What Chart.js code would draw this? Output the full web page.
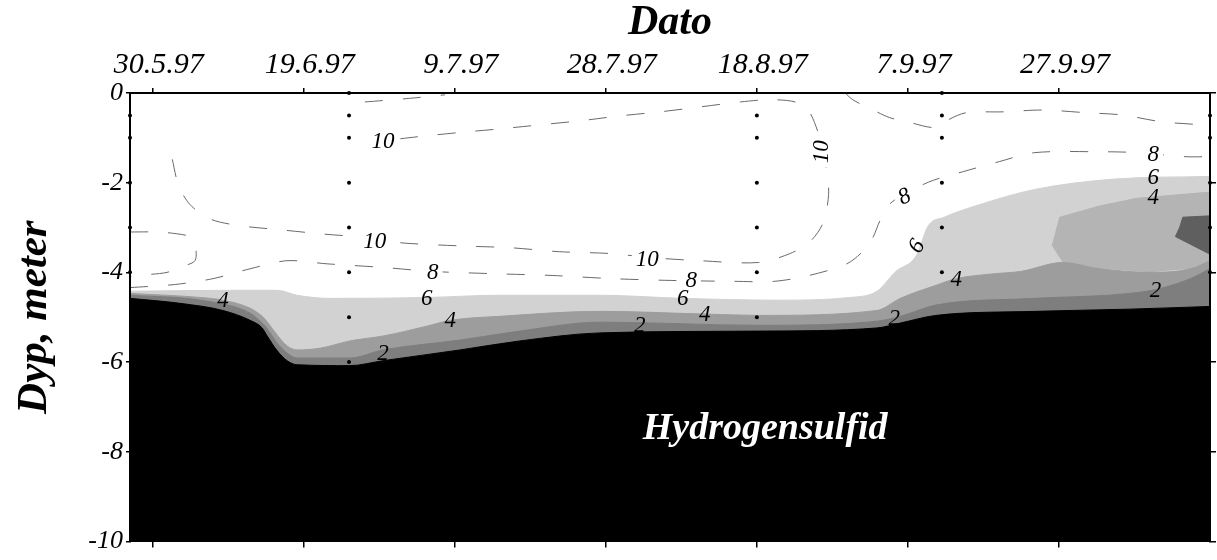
<!DOCTYPE html>
<html>
<head>
<meta charset="utf-8">
<script src="https://cdn.jsdelivr.net/npm/chart.js@4/dist/chart.umd.min.js"></script>
<style>
html,body{margin:0;padding:0;background:#fff;}
#wrap{width:1217px;height:560px;}
</style>
</head>
<body>
<div id="wrap"><canvas id="c" width="1217" height="560"></canvas></div>
<script>
// ---- axis ticks ----
const xTickValues = [150, 170, 190, 210, 230, 250, 270];
const xTickLabels = ['30.5.97', '19.6.97', '9.7.97', '28.7.97', '18.8.97', '7.9.97', '27.9.97'];
const yTickValues = [-10, -8, -6, -4, -2, 0];
const yTickLabels = ['-10', '-8', '-6', '-4', '-2', '0'];

// ---- filled contour boundaries [day of year, depth m] ----
const iso6 = [[147.0,-4.42],[160.2,-4.40],[166.5,-4.40],[169.1,-4.51],[173.5,-4.58],[186.3,-4.56],[196.0,-4.51],[209.2,-4.51],[220.2,-4.58],[232.8,-4.62],[242.3,-4.56],[245.9,-4.42],[248.4,-3.98],[251.1,-3.63],[252.7,-2.96],[254.8,-2.77],[258.9,-2.52],[266.8,-2.15],[277.3,-1.92],[290.0,-1.86]];
const iso4 = [[147.0,-4.47],[156.3,-4.56],[159.3,-4.62],[162.9,-4.80],[164.5,-4.98],[165.1,-5.09],[166.5,-5.40],[167.8,-5.64],[169.1,-5.73],[172.2,-5.69],[176.1,-5.53],[180.5,-5.42],[186.3,-5.20],[189.4,-5.07],[196.0,-4.98],[209.2,-4.87],[223.1,-4.93],[230.2,-4.96],[245.9,-4.85],[249.0,-4.58],[253.7,-4.29],[256.4,-4.14],[261.5,-4.03],[264.9,-3.98],[270.5,-3.78],[275.4,-3.92],[282.1,-4.00],[287.4,-3.92],[290.0,-3.74]];
const iso2 = [[147.0,-4.51],[156.3,-4.62],[162.9,-4.91],[164.5,-5.13],[165.1,-5.24],[166.5,-5.58],[167.8,-5.80],[169.1,-5.91],[176.1,-5.91],[180.5,-5.73],[190.7,-5.51],[198.6,-5.31],[209.2,-5.11],[230.2,-5.18],[245.9,-5.09],[249.0,-4.98],[253.7,-4.73],[266.8,-4.58],[279.4,-4.47],[283.4,-4.36],[287.4,-4.14],[290.0,-3.92]];
const iso0 = [[147.0,-4.58],[153.6,-4.69],[159.3,-4.85],[162.9,-5.07],[164.5,-5.24],[165.1,-5.40],[166.5,-5.75],[167.8,-5.97],[169.1,-6.06],[176.1,-6.08],[180.5,-5.97],[190.7,-5.73],[198.6,-5.53],[209.2,-5.35],[230.2,-5.31],[245.9,-5.24],[249.0,-5.13],[253.7,-4.96],[266.8,-4.87],[279.4,-4.82],[290.0,-4.76]];
const pocketTop = [[269.1,-3.41],[270.1,-2.77],[275.4,-2.52],[280.3,-2.35],[290.0,-2.21]];
const pocketBottom = [[269.1,-3.41],[270.5,-3.78],[275.4,-3.92],[282.1,-4.00],[287.4,-3.92],[290.0,-3.74]];
const coreTop = [[285.4,-3.21],[286.0,-2.99],[286.4,-2.77],[290.0,-2.74]];
const coreBottom = [[285.4,-3.21],[290.0,-3.61]];

// ---- dashed contour lines ----
const iso10a = [[152.6,-1.48],[153.4,-2.04],[154.9,-2.48],[157.6,-2.81],[161.6,-2.96],[166.9,-3.05],[172.2,-3.14],[177.2,-3.21],[182.8,-3.34],[190.7,-3.41],[197.3,-3.45],[203.9,-3.54],[210.6,-3.58],[215.9,-3.67],[222.5,-3.74],[230.2,-3.78],[234.4,-3.58],[237.0,-3.32],[238.7,-2.92],[239.5,-2.26],[239.1,-1.59],[238.2,-0.93],[236.8,-0.38],[235.1,-0.20],[231.7,-0.15],[227.8,-0.20],[222.5,-0.31],[217.2,-0.42],[211.9,-0.51],[206.6,-0.62],[201.3,-0.71],[196.0,-0.80],[190.7,-0.88],[185.4,-0.97],[182.8,-1.02]];
const iso10b = [[241.7,0],[242.7,-0.15],[245.4,-0.38],[247.6,-0.55],[250.3,-0.66],[253.6,-0.77],[255.3,-0.60],[257.7,-0.44],[262.6,-0.42],[267.9,-0.38],[273.6,-0.44],[278.4,-0.49],[283.5,-0.64],[288.7,-0.71],[290.0,-0.75]];
const iso10c = [[178.1,-0.20],[184.0,-0.12],[188.7,-0.04]];
const iso8 = [[147.0,-4.34],[153.0,-4.27],[158.0,-4.14],[162.9,-3.92],[167.8,-3.74],[173.1,-3.81],[180.5,-3.89],[187.1,-3.98],[195.2,-4.03],[203.0,-4.07],[210.8,-4.14],[218.6,-4.18],[227.0,-4.20],[232.3,-4.20],[236.9,-4.07],[241.9,-3.81],[244.1,-3.52],[245.4,-3.21],[246.3,-2.85],[247.9,-2.43],[252.7,-1.99],[257.4,-1.75],[262.1,-1.53],[266.8,-1.33],[275.2,-1.31],[280.5,-1.33],[286.7,-1.42],[290.0,-1.42]];
const iso8b = [[147.0,-3.10],[150.6,-3.10],[153.2,-3.14],[154.9,-3.21],[155.7,-3.47],[155.6,-3.74],[154.3,-3.85],[151.9,-4.00],[149.4,-4.05],[147.0,-4.09]];

// ---- sampling points ----
const samples = [
  [147,-0.5],[147,-1],[147,-2],[147,-3],[147,-4],
  [176,0],[176,-0.5],[176,-1],[176,-2],[176,-3],[176,-4],[176,-5],[176,-6],
  [230,-0.5],[230,-1],[230,-2],[230,-3],[230,-4],[230,-5],
  [254.5,0],[254.5,-0.5],[254.5,-1],[254.5,-2],[254.5,-3],[254.5,-4],[254.5,-5],
  [290,-0.5],[290,-1],[290,-2],[290,-3],[290,-4]
];

// ---- contour labels [text, day, depth, rotation deg, knockout] ----
const contourLabels = [
  ['10',180.5,-1.08,0,true],['10',179.4,-3.30,0,true],['8',187.1,-3.98,0,true],
  ['6',186.3,-4.56,0,false],['4',189.4,-5.07,0,false],['4',159.3,-4.62,0,false],['2',180.5,-5.80,0,false],
  ['10',215.5,-3.69,0,true],['8',221.3,-4.18,0,true],['6',220.2,-4.58,0,false],['4',223.1,-4.93,0,false],['2',214.5,-5.18,0,false],
  ['10',238.5,-1.31,-90,true],['8',249.5,-2.30,-25,true],['6',251.1,-3.41,-60,false],['4',256.4,-4.14,0,false],['2',248.2,-5.02,0,false],
  ['8',282.5,-1.37,0,true],['6',282.5,-1.88,0,false],['4',282.5,-2.32,0,false],['2',282.8,-4.40,0,false]
];
const sulfideLabel = 'Hydrogensulfid';
const sulfidePos = [231.1, -7.5];

const pts = a => a.map(([x, y]) => ({x, y}));
const SERIF = '"Liberation Serif", "Times New Roman", serif';

const band = (data, color, order) => ({
  data: pts(data), showLine: true, fill: 'start', backgroundColor: color,
  borderColor: color, borderWidth: 1, pointRadius: 0, cubicInterpolationMode: 'monotone', order
});
const dashed = (data) => ({
  data: pts(data), showLine: true, fill: false, borderColor: '#6a6a6a', borderWidth: 1,
  borderDash: [18, 20], pointRadius: 0, tension: 0.3, order: 3
});

const datasets = [];
datasets.push(band(iso6, '#d2d2d2', 10));                      // 0
datasets.push({data: pts(pocketTop), showLine: true, fill: 2, backgroundColor: '#b4b4b4',
  borderColor: '#b4b4b4', borderWidth: 1, pointRadius: 0, tension: 0, order: 9}); // 1
datasets.push({data: pts(pocketBottom), showLine: true, fill: false, borderColor: 'rgba(0,0,0,0)',
  borderWidth: 0.1, pointRadius: 0, tension: 0, order: 9});   // 2
datasets.push(band(iso4, '#9d9d9d', 8));                        // 3
datasets.push(band(iso2, '#7e7e7e', 7));                        // 4
datasets.push({data: pts(coreTop), showLine: true, fill: 6, backgroundColor: '#5f5f5f',
  borderColor: '#5f5f5f', borderWidth: 1, pointRadius: 0, tension: 0, order: 6}); // 5
datasets.push({data: pts(coreBottom), showLine: true, fill: false, borderColor: 'rgba(0,0,0,0)',
  borderWidth: 0.1, pointRadius: 0, tension: 0, order: 6});   // 6
datasets.push(band(iso0, '#000000', 5));                        // 7
datasets.push(dashed(iso10a));
datasets.push(dashed(iso10b));
datasets.push(dashed(iso10c));
datasets.push(dashed(iso8));
datasets.push(dashed(iso8b));
datasets.push({data: pts(samples), showLine: false, pointRadius: 2, pointBackgroundColor: '#000',
  pointBorderWidth: 0, clip: false, order: 1});

const labelPlugin = {
  id: 'contourLabels',
  afterDatasetsDraw(chart) {
    const {ctx, chartArea} = chart;
    const xs = chart.scales.x, ys = chart.scales.y;
    ctx.save();
    ctx.beginPath();
    ctx.rect(chartArea.left, chartArea.top, chartArea.right - chartArea.left, chartArea.bottom - chartArea.top);
    ctx.clip();
    ctx.font = 'italic 23px ' + SERIF;
    ctx.textAlign = 'center';
    ctx.textBaseline = 'middle';
    for (const [t, d, z, rot, bg] of contourLabels) {
      const px = xs.getPixelForValue(d), py = ys.getPixelForValue(z);
      ctx.save();
      ctx.translate(px, py);
      ctx.rotate(rot * Math.PI / 180);
      if (bg) {
        const w = ctx.measureText(t).width;
        ctx.fillStyle = '#fff';
        ctx.fillRect(-w / 2 - 4, -9, w + 8, 18);
      }
      ctx.fillStyle = '#000';
      ctx.fillText(t, 0, 1);
      ctx.restore();
    }
    ctx.font = 'italic bold 38px ' + SERIF;
    ctx.fillStyle = '#fff';
    ctx.fillText(sulfideLabel, xs.getPixelForValue(sulfidePos[0]), ys.getPixelForValue(sulfidePos[1]));
    ctx.restore();
  }
};

const setXTicks = s => { s.ticks = xTickValues.map(v => ({value: v})); };
const setYTicks = s => { s.ticks = yTickValues.map(v => ({value: v})); };
const axisBorder = {display: true, color: '#000', width: 2, z: 1};

new Chart(document.getElementById('c'), {
  type: 'scatter',
  data: {datasets},
  options: {
    responsive: false,
    devicePixelRatio: 1,
    animation: false,
    layout: {padding: 0},
    plugins: {legend: {display: false}, tooltip: {enabled: false}},
    scales: {
      x: {
        type: 'linear', position: 'top', min: 147, max: 290,
        afterBuildTicks: setXTicks,
        afterFit: s => { s.height = 93; },
        ticks: {
          autoSkip: false, maxRotation: 0, color: '#000', padding: 5, labelOffset: 6,
          font: {family: SERIF, size: 30, style: 'italic'},
          callback: (v, i) => xTickLabels[i]
        },
        grid: {drawOnChartArea: false, drawTicks: true, tickLength: 5, color: '#000', lineWidth: 1.5},
        border: axisBorder,
        title: {display: true, text: 'Dato', color: '#000', padding: {top: -2, bottom: 0},
          font: {family: SERIF, size: 42, style: 'italic', weight: 'bold'}}
      },
      x2: {
        type: 'linear', position: 'bottom', min: 147, max: 290,
        afterBuildTicks: setXTicks,
        afterFit: s => { s.height = 15; },
        ticks: {display: false},
        grid: {drawOnChartArea: false, drawTicks: true, tickLength: 6, color: '#000', lineWidth: 1.5},
        border: axisBorder
      },
      y: {
        type: 'linear', position: 'left', min: -10, max: 0,
        afterBuildTicks: setYTicks,
        afterFit: s => { s.width = 130; },
        ticks: {
          color: '#000', padding: 3,
          font: {family: SERIF, size: 26, style: 'italic'},
          callback: (v, i) => yTickLabels[i]
        },
        grid: {drawOnChartArea: false, drawTicks: true, tickLength: 4, color: '#000', lineWidth: 1.5},
        border: axisBorder,
        title: {display: true, text: 'Dyp, meter', color: '#000', padding: {top: 9, bottom: 0},
          font: {family: SERIF, size: 43, style: 'italic', weight: 'bold'}}
      },
      y2: {
        type: 'linear', position: 'right', min: -10, max: 0,
        afterBuildTicks: setYTicks,
        afterFit: s => { s.width = 7; },
        ticks: {display: false},
        grid: {drawOnChartArea: false, drawTicks: true, tickLength: 6, color: '#000', lineWidth: 1.5},
        border: axisBorder
      }
    }
  },
  plugins: [labelPlugin]
});
</script>
</body>
</html>
